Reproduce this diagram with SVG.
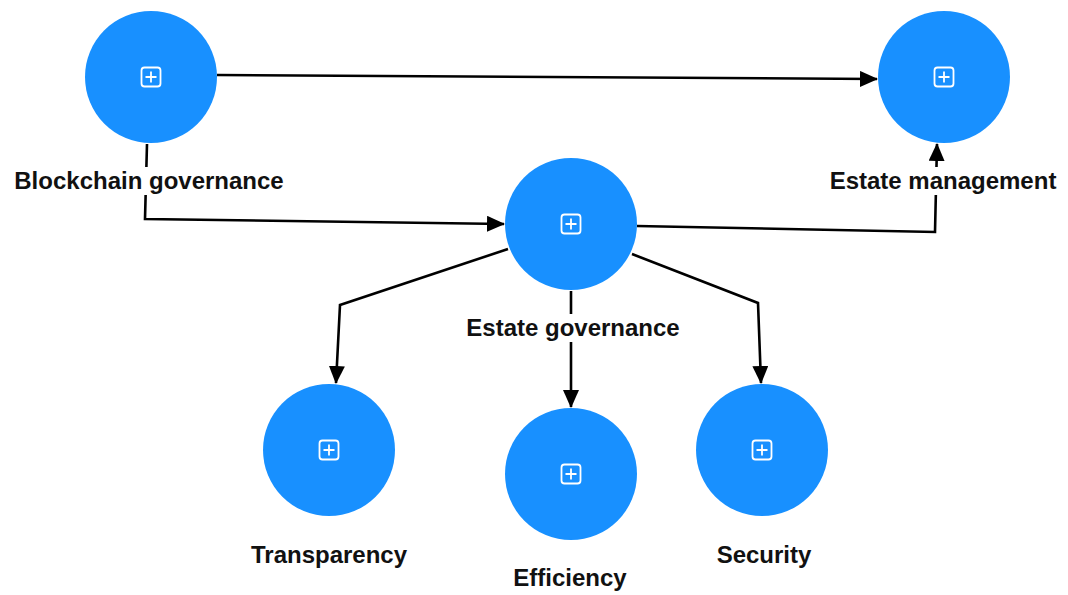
<svg xmlns="http://www.w3.org/2000/svg" width="1068" height="595" viewBox="0 0 1068 595">
<defs>
<style>
.node{fill:#1890ff}
.ic{fill:none;stroke:#fff;stroke-width:1.8}
.lbl{font-family:"Liberation Sans",Arial,sans-serif;font-weight:bold;font-size:24px;fill:#111;text-anchor:middle}
.bg{fill:#fff}
.con{fill:none;stroke:#000;stroke-width:2.6;stroke-linejoin:miter}
</style>
<marker id="ah" viewBox="0 0 18 16" refX="17" refY="8" markerWidth="18" markerHeight="16" markerUnits="userSpaceOnUse" orient="auto">
<path d="M0,0 L18,8 L0,16 Z" fill="#000"/>
</marker>
<g id="icon">
<rect x="-9.5" y="-9.5" width="19" height="19" rx="3" class="ic"/>
<path d="M0,-5.5 V5.5 M-5.5,0 H5.5" class="ic"/>
</g>
</defs>
<rect width="1068" height="595" fill="#fff"/>
<g id="connectors">
<path class="con" d="M217,75 L877,79" marker-end="url(#ah)"/>
<path class="con" d="M147,144 L145,219 L504,224" marker-end="url(#ah)"/>
<path class="con" d="M637,226 L935,232 L937,144" marker-end="url(#ah)"/>
<path class="con" d="M508,249 L340,305 L336,383" marker-end="url(#ah)"/>
<path class="con" d="M632,254 L758,303 L761,383" marker-end="url(#ah)"/>
<path class="con" d="M571,291 L571,407" marker-end="url(#ah)"/>
</g>
<g id="n-blockchain">
<circle class="node" cx="151" cy="77" r="66"/>
<use href="#icon" x="151" y="77"/>
<rect class="bg" x="6" y="167" width="288" height="28"/>
<text class="lbl" x="149" y="189">Blockchain governance</text>
</g>
<g id="n-management">
<circle class="node" cx="944" cy="77" r="66"/>
<use href="#icon" x="944" y="77"/>
<rect class="bg" x="822" y="167" width="244" height="28"/>
<text class="lbl" x="943" y="189">Estate management</text>
</g>
<g id="n-estate">
<circle class="node" cx="571" cy="224" r="66"/>
<use href="#icon" x="571" y="224"/>
<rect class="bg" x="458" y="314" width="230" height="28"/>
<text class="lbl" x="573" y="336">Estate governance</text>
</g>
<g id="n-transparency">
<circle class="node" cx="329" cy="450" r="66"/>
<use href="#icon" x="329" y="450"/>
<text class="lbl" x="329" y="563">Transparency</text>
</g>
<g id="n-efficiency">
<circle class="node" cx="571" cy="474" r="66"/>
<use href="#icon" x="571" y="474"/>
<text class="lbl" x="570" y="586">Efficiency</text>
</g>
<g id="n-security">
<circle class="node" cx="762" cy="450" r="66"/>
<use href="#icon" x="762" y="450"/>
<text class="lbl" x="764" y="563">Security</text>
</g>
</svg>
